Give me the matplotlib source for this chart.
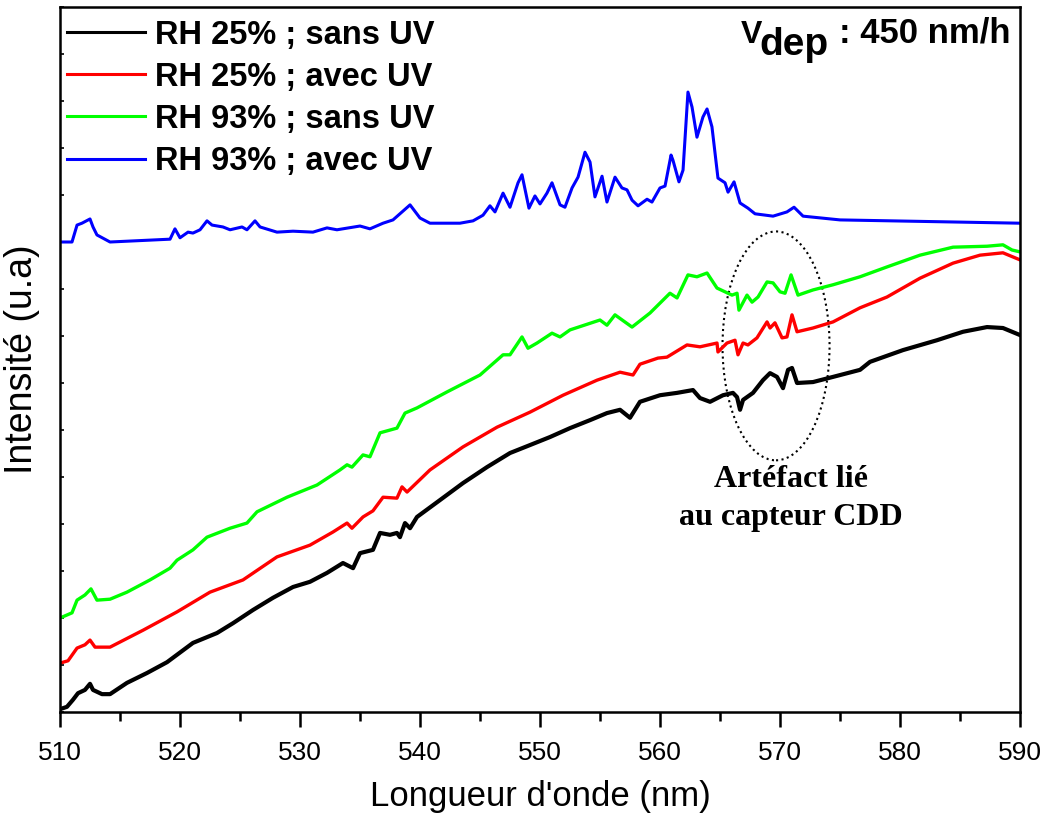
import numpy as np
import matplotlib
matplotlib.use("Agg")
import matplotlib.pyplot as plt
from matplotlib.patches import Ellipse

# spectres lus (longueur d'onde en nm, intensité en u.a.)
wl_noir = [510.0, 510.58, 511.08, 511.5, 512.08, 512.5, 512.75, 513.5, 514.17, 515.58,
           517.25, 518.92, 521.08, 523.08, 524.42, 526.08, 527.75, 529.42, 530.83, 532.25,
           533.58, 534.42, 535.0, 536.08, 536.67, 537.5, 538.08, 538.33, 538.75, 539.17,
           539.75, 541.67, 543.58, 545.58, 547.5, 549.17, 550.83, 552.5, 554.17, 555.58,
           556.67, 557.5, 558.33, 560.0, 561.42, 562.75, 563.33, 564.17, 565.25, 566.08,
           566.42, 566.67, 566.92, 567.75, 568.58, 569.17, 569.75, 570.25, 570.67, 571.0,
           571.42, 572.75, 574.42, 576.67, 577.5, 580.25, 583.08, 585.25, 587.25, 588.58, 590.0]
i_noir = [0.06, 0.11, 0.26, 0.40, 0.47, 0.60, 0.47, 0.38, 0.38, 0.62,
          0.83, 1.06, 1.47, 1.68, 1.89, 2.17, 2.43, 2.66, 2.77, 2.96,
          3.17, 3.06, 3.38, 3.45, 3.81, 3.77, 3.81, 3.72, 4.02, 3.91,
          4.15, 4.51, 4.87, 5.21, 5.51, 5.68, 5.85, 6.04, 6.21, 6.36,
          6.43, 6.26, 6.60, 6.74, 6.79, 6.85, 6.68, 6.60, 6.74, 6.79,
          6.70, 6.43, 6.64, 6.79, 7.06, 7.21, 7.13, 6.89, 7.28, 7.32,
          7.00, 7.02, 7.13, 7.28, 7.45, 7.70, 7.91, 8.09, 8.19, 8.17, 8.02]

wl_rouge = [510.0, 510.67, 511.42, 512.08, 512.5, 512.92, 514.17, 516.92, 519.75, 522.5,
            525.25, 528.08, 530.83, 532.75, 533.92, 534.33, 535.25, 536.08, 536.92, 538.08,
            538.5, 538.92, 540.83, 543.58, 546.42, 549.17, 551.92, 554.75, 556.67, 557.75,
            558.33, 559.83, 560.58, 562.25, 563.33, 564.75, 564.83, 565.58, 566.25, 566.5,
            566.92, 567.33, 568.08, 568.92, 569.17, 569.58, 570.17, 570.58, 571.0, 571.42,
            572.75, 574.42, 576.67, 578.92, 581.67, 584.42, 586.67, 588.58, 590.0]
i_rouge = [1.04, 1.09, 1.36, 1.43, 1.53, 1.38, 1.38, 1.74, 2.13, 2.55,
           2.81, 3.30, 3.55, 3.83, 4.02, 3.91, 4.15, 4.28, 4.57, 4.55,
           4.79, 4.68, 5.15, 5.64, 6.06, 6.38, 6.74, 7.06, 7.23, 7.17,
           7.40, 7.53, 7.55, 7.81, 7.77, 7.85, 7.66, 7.85, 7.91, 7.60,
           7.85, 7.81, 7.96, 8.30, 8.17, 8.28, 7.96, 7.98, 8.45, 8.09,
           8.17, 8.30, 8.60, 8.83, 9.23, 9.55, 9.72, 9.77, 9.62]

wl_vert = [510.0, 511.0, 511.42, 512.08, 512.58, 513.08, 514.17, 515.58, 517.5, 519.17,
           519.75, 521.08, 522.25, 524.17, 525.58, 526.42, 528.92, 531.42, 533.33, 533.92,
           534.33, 535.25, 535.83, 536.67, 538.08, 538.75, 539.75, 542.25, 545.0, 546.92,
           547.5, 548.5, 549.0, 549.75, 551.0, 551.67, 552.5, 555.0, 555.58, 556.25,
           557.67, 559.17, 560.83, 561.42, 562.33, 563.08, 563.92, 564.75, 566.0, 566.42,
           566.58, 567.25, 567.67, 568.17, 568.92, 569.42, 570.0, 570.42, 570.92, 571.5,
           572.75, 574.42, 576.67, 578.92, 581.67, 584.42, 587.25, 588.58, 589.33, 590.0]
i_vert = [2.00, 2.11, 2.38, 2.49, 2.62, 2.38, 2.40, 2.55, 2.81, 3.06,
          3.23, 3.45, 3.72, 3.91, 4.02, 4.26, 4.57, 4.83, 5.15, 5.26,
          5.21, 5.47, 5.43, 5.94, 6.04, 6.36, 6.47, 6.81, 7.17, 7.60,
          7.60, 7.98, 7.74, 7.85, 8.06, 7.98, 8.13, 8.34, 8.23, 8.45,
          8.19, 8.49, 8.91, 8.81, 9.30, 9.26, 9.34, 9.02, 8.87, 8.91,
          8.55, 8.87, 8.72, 8.83, 9.15, 9.13, 8.94, 8.91, 9.30, 8.87,
          8.98, 9.09, 9.26, 9.47, 9.72, 9.89, 9.91, 9.94, 9.83, 9.79]

wl_bleu = [510.0, 511.0, 511.42, 511.83, 512.5, 512.75, 513.08, 514.17, 519.17, 519.58,
           520.0, 520.67, 521.08, 521.67, 522.25, 522.67, 523.58, 524.17, 525.17, 525.58,
           526.25, 526.67, 528.08, 529.42, 531.08, 532.25, 533.08, 535.0, 535.83, 536.92,
           537.75, 539.17, 540.0, 540.83, 543.33, 544.42, 545.25, 545.83, 546.25, 546.92,
           547.5, 548.17, 548.5, 549.08, 549.58, 550.0, 550.58, 551.0, 551.67, 552.08,
           552.67, 553.17, 553.75, 554.17, 554.58, 555.17, 555.58, 556.25, 556.83, 557.25,
           557.67, 558.17, 558.92, 559.33, 560.0, 560.42, 560.92, 561.08, 561.58, 561.92,
           562.33, 562.67, 563.08, 563.58, 563.92, 564.33, 564.83, 565.42, 565.67, 566.17,
           566.67, 567.33, 567.92, 569.42, 570.58, 571.17, 571.92, 575.0, 590.0]
i_bleu = [10.00, 10.00, 10.36, 10.40, 10.49, 10.32, 10.15, 10.00, 10.06, 10.28,
          10.09, 10.21, 10.19, 10.26, 10.45, 10.36, 10.32, 10.26, 10.32, 10.26,
          10.45, 10.32, 10.21, 10.23, 10.21, 10.30, 10.26, 10.34, 10.28, 10.40,
          10.47, 10.79, 10.51, 10.40, 10.40, 10.45, 10.57, 10.77, 10.64, 11.04,
          10.74, 11.26, 11.43, 10.72, 10.98, 10.81, 11.04, 11.26, 10.79, 10.74,
          11.15, 11.38, 11.91, 11.70, 10.96, 11.40, 10.85, 11.38, 11.15, 11.11,
          10.89, 10.77, 10.91, 10.85, 11.15, 11.19, 11.85, 11.74, 11.28, 11.53,
          13.19, 12.87, 12.23, 12.66, 12.83, 12.45, 11.36, 11.26, 11.06, 11.28,
          10.83, 10.72, 10.60, 10.55, 10.64, 10.74, 10.55, 10.47, 10.40]

labels = ["RH 25% ; sans UV", "RH 25% ; avec UV", "RH 93% ; sans UV", "RH 93% ; avec UV"]
couleurs = ["#000000", "#FF0000", "#00FF00", "#0000FF"]

fig = plt.figure(figsize=(10.47, 8.16), dpi=100)
ax = fig.add_axes([60 / 1047, 104 / 816, 960 / 1047, 705 / 816])

series = [(wl_noir, i_noir, 3.0), (wl_rouge, i_rouge, 2.4),
          (wl_vert, i_vert, 2.4), (wl_bleu, i_bleu, 2.2)]
for (wl, it, lw), lab, c in zip(series, labels, couleurs):
    ax.plot(wl, it, color=c, lw=lw, label=lab, solid_joinstyle="round")

ax.set_xlim(510, 590)
ax.set_ylim(0, 15)
ax.set_xticks(np.arange(510, 591, 10))
ax.set_xticks(np.arange(515, 590, 10), minor=True)
ax.set_yticks(np.arange(0, 16, 1))
ax.set_yticklabels([])
ax.tick_params(axis="x", which="major", direction="out", length=11, width=1.8,
               labelsize=19, pad=10)
ax.tick_params(axis="x", which="minor", direction="out", length=6.5, width=1.8)
ax.tick_params(axis="y", which="major", direction="in", length=3, width=1.2)
for lab in ax.get_xticklabels():
    lab.set_fontfamily("Liberation Sans")
for s in ax.spines.values():
    s.set_linewidth(1.8)

ax.set_xlabel("Longueur d'onde (nm)", fontsize=25, family="Liberation Sans", labelpad=11)
ax.set_ylabel("Intensité (u.a)", fontsize=27, family="Liberation Sans", labelpad=11)

leg = ax.legend(loc="upper left", bbox_to_anchor=(0.007, 0.982), frameon=False,
                prop={"family": "Liberation Sans", "weight": "bold", "size": 23.5},
                handlelength=2.4, handletextpad=0.3, borderaxespad=0, borderpad=0,
                labelspacing=0.34)
for h in leg.get_lines():
    h.set_linewidth(2.2)

# V_dep
kw = dict(transform=ax.transAxes, family="Liberation Sans", weight="bold")
ax.text(0.709, 0.949, "V", ha="left", va="baseline", fontsize=23, **kw)
ax.text(0.729, 0.932, "dep", ha="left", va="baseline", fontsize=28, **kw)
ax.text(0.990, 0.949, ": 450 nm/h", ha="right", va="baseline", fontsize=25, **kw)

# zone de l'artéfact
ax.add_patch(Ellipse((569.67, 7.79), 8.92, 4.87, fill=False, ls=":", lw=1.5, ec="black"))
ax.text(570.92, 4.79, "Artéfact lié", ha="center", va="baseline", fontsize=23,
        family="Liberation Serif", weight="bold")
ax.text(570.92, 3.98, "au capteur CDD", ha="center", va="baseline", fontsize=23,
        family="Liberation Serif", weight="bold")

fig.savefig("out.png", dpi=100)
